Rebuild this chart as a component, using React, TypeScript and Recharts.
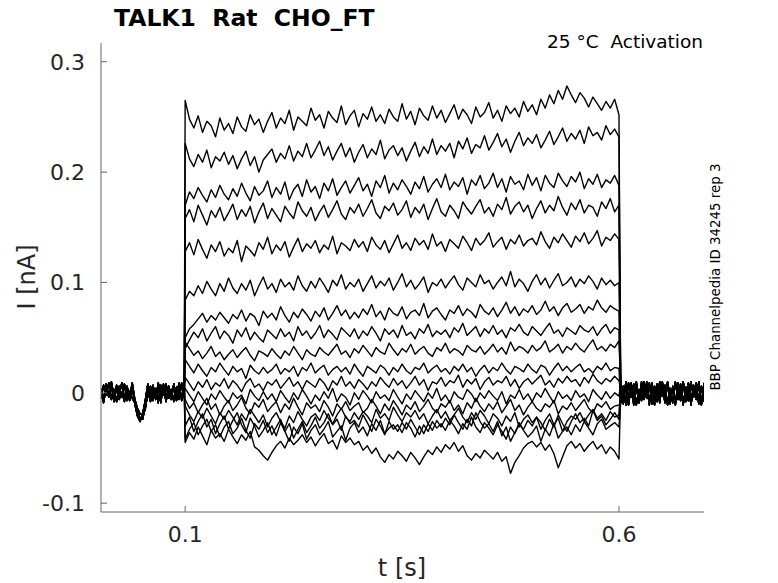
import React from 'react';
import { Line, LineChart, XAxis, YAxis } from 'recharts';

// time in ms, current in pA
const PRE_T = [3, 6, 9, 12, 15, 18, 21, 24, 27, 30, 33, 36, 39, 42, 45, 48, 51, 54, 57, 60, 63, 66, 69, 72, 75, 78, 81, 84, 87, 90, 93, 96, 99];
const POST_T = [602, 605, 608, 611, 614, 617, 620, 623, 626, 629, 632, 635, 638, 641, 644, 647, 650, 653, 656, 659, 662, 665, 668, 671, 674, 677, 680, 683, 686, 689, 692, 695, 698];
const STEP_T = [
  100, 105, 110, 115, 120, 125, 130, 135, 140, 145, 150, 155, 160, 165, 170, 175, 180, 185, 190, 195,
  200, 205, 210, 215, 220, 225, 230, 235, 240, 245, 250, 255, 260, 265, 270, 275, 280, 285, 290, 295,
  300, 305, 310, 315, 320, 325, 330, 335, 340, 345, 350, 355, 360, 365, 370, 375, 380, 385, 390, 395,
  400, 405, 410, 415, 420, 425, 430, 435, 440, 445, 450, 455, 460, 465, 470, 475, 480, 485, 490, 495,
  500, 505, 510, 515, 520, 525, 530, 535, 540, 545, 550, 555, 560, 565, 570, 575, 580, 585, 590, 595, 600,
];

const PRE_A = [4, -6, 8, -3, 7, -8, 5, -2, 9, -5, 3, -7, 6, -10, -21, -26, -19, -7, 8, -4, 7, -6, 9, -3, 5, -8, 6, -2, 8, -7, 4, -5, 7];
const PRE_B = [-5, 7, -2, 9, -6, 3, -8, 6, -4, 8, -7, 2, -5, -9, -17, -23, -24, -12, -3, 6, -7, 4, -9, 7, -2, 8, -5, 3, -8, 5, -6, 9, -3];
const PRE_C = [2, -9, 5, -4, 10, -3, 7, -6, 1, -8, 6, -4, 9, -6, -14, -19, -20, -15, 2, -8, 3, -5, 6, -9, 8, -4, 2, -6, 7, -3, 9, -7, 1];
const POST_A = [8, -10, 10, -6, 9, -11, 5, -8, 10, -4, 7, -11, 9, -7, 4, -9, 10, -5, 8, -10, 6, -11, 9, -3, 10, -8, 5, -10, 7, -6, 10, -9, 4];
const POST_B = [-9, 6, -11, 9, -4, 8, -11, 3, -7, 10, -5, 9, -10, 6, -8, 10, -3, 7, -11, 4, -9, 10, -6, 8, -11, 5, -7, 10, -4, 9, -10, 6, -8];
const POST_C = [3, -7, 9, -11, 6, -3, 10, -9, 4, -6, 10, -8, 2, -11, 8, -5, 7, -9, 10, -4, 3, -10, 5, -7, 10, -2, 9, -11, 6, -5, 8, -11, 9];

const TR_A = [
  265, 248, 240, 251, 236, 246, 242, 232, 249, 238, 244, 235, 250, 241, 237, 252, 243, 248, 236, 246,
  254, 240, 249, 244, 256, 238, 250, 246, 242, 258, 247, 252, 240, 255, 249, 245, 260, 243, 251, 256,
  241, 253, 248, 259, 246, 252, 244, 257, 250, 246, 262, 248, 255, 243, 258, 251, 247, 260, 249, 256,
  245, 253, 261, 248, 257, 252, 244, 259, 250, 254, 263, 249, 256, 246, 260, 253, 258, 250, 264, 255,
  261, 252, 266, 258, 270, 262, 274, 266, 278, 270, 263, 272, 267, 259, 268, 262, 256, 264, 258, 266, 252,
];
const TR_B = [
  226, 212, 205, 216, 209, 220, 204, 214, 210, 218, 207, 215, 203, 212, 219, 206, 214, 200, 211, 216,
  221, 209, 217, 212, 224, 210, 219, 214, 226, 213, 220, 228, 215, 223, 211, 219, 226, 214, 222, 209,
  218, 225, 213, 221, 216, 229, 212, 220, 224, 215, 222, 210, 219, 227, 214, 223, 217, 230, 216, 224,
  219, 226, 213, 228, 221, 231, 217, 225, 222, 233, 220, 227, 235, 223, 230, 218, 228, 236, 224, 231,
  226, 234, 222, 229, 237, 225, 232, 240, 228, 235, 230, 238, 226, 241, 233, 236, 229, 242, 234, 239, 232,
];
const TR_C = [
  170, 182, 176, 186, 179, 173, 184, 177, 188, 180, 175, 185, 178, 190, 181, 174, 187, 179, 183, 192,
  177, 186, 180, 191, 175, 184, 189, 178, 193, 182, 187, 176, 190, 183, 194, 179, 186, 192, 181, 188,
  195, 183, 189, 178, 192, 186, 197, 181, 190, 184, 193, 187, 180, 191, 185, 196, 182, 189, 194, 186,
  198, 184, 191, 187, 195, 180, 193, 188, 197, 185, 190, 199, 186, 194, 182, 196, 189, 192, 184, 198,
  188, 195, 183, 197, 190, 186, 199, 192, 187, 196, 191, 200, 185, 194, 189, 198, 186, 193, 190, 197, 188,
];
const TR_D = [
  158, 166, 155, 170, 161, 152, 165, 159, 168, 156, 163, 171, 157, 166, 160, 169, 154, 164, 172, 158,
  167, 161, 155, 169, 163, 158, 173, 165, 160, 168, 156, 164, 170, 159, 166, 174, 162, 157, 168, 163,
  171, 160, 167, 175, 163, 158, 169, 165, 172, 161, 166, 174, 159, 168, 163, 171, 157, 167, 176, 164,
  160, 170, 165, 158, 173, 167, 162, 169, 175, 163, 168, 160, 171, 166, 177, 162, 169, 173, 164, 170,
  158, 167, 174, 163, 170, 165, 178, 168, 161, 172, 166, 175, 163, 170, 168, 160, 173, 167, 176, 164, 170,
];
const TR_E = [
  128, 136, 125, 139, 130, 122, 134, 128, 137, 124, 131, 127, 138, 119, 133, 129, 124, 136, 130, 141,
  126, 134, 129, 137, 123, 132, 140, 128, 135, 131, 138, 127, 134, 130, 142, 126, 136, 133, 129, 139,
  132, 137, 128, 141, 134, 130, 138, 127, 135, 143, 131, 136, 129, 140, 134, 138, 130, 144, 133, 137,
  128, 139, 135, 131, 142, 136, 129, 140, 134, 138, 145, 132, 137, 141, 130, 139, 135, 143, 133, 138,
  140, 134, 146, 137, 131, 141, 136, 144, 138, 132, 142, 137, 145, 135, 140, 147, 133, 141, 138, 144, 139,
];
const TR_F = [
  84, 92, 88, 97, 90, 101, 94, 88, 99, 92, 104, 95, 90, 99, 93, 102, 88, 97, 105, 94,
  99, 91, 103, 96, 100, 93, 106, 97, 92, 101, 95, 104, 98, 91, 102, 97, 107, 94, 100, 96,
  103, 92, 99, 106, 95, 101, 97, 104, 93, 100, 108, 96, 102, 94, 99, 105, 91, 100, 97, 103,
  95, 101, 106, 98, 93, 104, 100, 96, 107, 99, 102, 94, 100, 105, 97, 110, 96, 103, 99, 92,
  101, 107, 98, 104, 95, 102, 108, 97, 100, 105, 96, 103, 99, 106, 101, 94, 104, 98, 102, 97, 100,
];
const TR_G = [
  50, 58, 62, 67, 72, 64, 70, 66, 73, 68, 63, 71, 67, 75, 65, 72, 69, 61, 74, 68,
  72, 66, 78, 70, 64, 73, 68, 76, 71, 65, 74, 69, 77, 66, 72, 79, 70, 75, 67, 73,
  68, 76, 71, 80, 69, 74, 66, 77, 72, 70, 78, 67, 73, 75, 70, 81, 68, 74, 77, 71,
  66, 75, 72, 79, 70, 76, 73, 68, 80, 74, 71, 77, 69, 75, 82, 72, 78, 70, 76, 73,
  79, 71, 75, 83, 74, 78, 70, 77, 81, 73, 76, 80, 72, 78, 75, 84, 77, 73, 79, 76, 74,
];
const TR_H = [
  40, 48, 55, 50, 58, 47, 54, 60, 49, 56, 52, 45, 57, 51, 59, 48, 55, 50, 46, 57,
  53, 49, 58, 51, 55, 47, 60, 52, 56, 49, 54, 61, 50, 57, 53, 48, 59, 55, 51, 58,
  49, 56, 52, 60, 54, 47, 58, 53, 57, 50, 61, 52, 55, 49, 58, 54, 62, 51, 56, 53,
  57, 50, 59, 55, 63, 52, 56, 60, 51, 58, 54, 61, 53, 57, 50, 59, 56, 62, 55, 52,
  60, 56, 52, 58, 63, 54, 57, 51, 59, 56, 53, 61, 57, 55, 60, 52, 58, 62, 54, 59, 57,
];
const TR_I = [
  46, 40, 34, 38, 31, 36, 42, 33, 37, 30, 35, 39, 32, 37, 41, 34, 29, 38, 36, 33,
  40, 35, 31, 38, 34, 42, 36, 30, 39, 35, 33, 41, 37, 34, 39, 44, 35, 38, 32, 40,
  36, 43, 38, 33, 41, 37, 35, 45, 39, 34, 40, 37, 44, 35, 39, 42, 36, 33, 41, 38,
  45, 36, 40, 38, 34, 43, 39, 37, 42, 35, 39, 44, 37, 41, 35, 46, 38, 42, 40, 36,
  43, 38, 41, 47, 37, 40, 44, 36, 42, 39, 45, 40, 37, 43, 48, 39, 42, 38, 44, 41, 47,
];
const TR_J = [
  30, 24, 18, 26, 20, 15, 23, 19, 27, 21, 16, 24, 19, 22, 13, 25, 20, 17, 23, 18,
  21, 26, 17, 22, 19, 24, 15, 23, 20, 27, 18, 22, 25, 16, 21, 24, 19, 23, 17, 26,
  20, 15, 24, 21, 18, 25, 22, 16, 23, 19, 26, 20, 17, 23, 21, 27, 18, 22, 25, 19,
  22, 17, 24, 20, 26, 19, 23, 15, 21, 25, 18, 23, 20, 27, 21, 17, 24, 22, 19, 26,
  21, 18, 25, 23, 16, 22, 27, 20, 24, 19, 23, 26, 19, 22, 18, 24, 21, 27, 20, 23, 22,
];
const TR_K = [
  14, 8, 2, 10, 5, 12, 3, 9, 6, 13, 4, 11, 7, 1, 9, 13, 5, 8, 2, 10,
  7, 12, 4, 9, 14, 6, 10, 3, 11, 8, 5, 13, 9, 2, 11, 7, 15, 6, 10, 4,
  12, 8, 3, 10, 6, 14, 9, 5, 13, 7, 11, 4, 9, 15, 7, 12, 2, 10, 8, 14,
  6, 11, 9, 16, 5, 12, 8, 13, 3, 10, 14, 7, 11, 9, 15, 6, 12, 4, 10, 13,
  8, 12, 16, 7, 11, 5, 13, 9, 15, 10, 12, 6, 14, 9, 17, 11, 8, 13, 10, 15, 11,
];
const TR_L = [
  4, -2, -8, 1, -5, -11, -1, -6, 2, -4, -9, 0, -5, -2, -10, 3, -3, -7, 1, -6,
  -1, -8, 2, -4, -9, 0, -6, 3, -3, -10, -2, -7, 1, -5, 4, -8, -1, -4, -11, 0,
  -6, 2, -3, -9, 1, -5, -2, -7, 3, -4, -10, -1, -6, 2, -3, -8, 0, -5, 4, -7,
  -2, -9, 1, -4, -6, 3, -1, -8, 0, -5, 2, -3, -7, 1, -10, -2, -5, 3, -6, -1,
  -8, 0, -4, 4, -3, -9, 1, -5, -2, -7, 2, -4, -1, -8, 3, -2, -6, 1, -5, 0, -3,
];
const TR_M = [
  -6, -14, -9, -18, -11, -5, -15, -10, -20, -12, -7, -16, -11, -4, -14, -19, -9, -13, -6, -17,
  -12, -8, -18, -10, -15, -5, -13, -20, -9, -14, -11, -17, -7, -13, -21, -10, -15, -8, -16, -12,
  -9, -18, -14, -6, -12, -19, -10, -16, -7, -13, -20, -11, -15, -8, -17, -12, -6, -14, -18, -10,
  -13, -7, -16, -11, -19, -9, -14, -5, -12, -17, -10, -15, -8, -18, -12, -6, -16, -11, -20, -13,
  -8, -14, -17, -10, -13, -7, -19, -12, -15, -9, -16, -11, -6, -14, -18, -10, -13, -8, -15, -12, -11,
];
const TR_N = [
  -12, -20, -26, -17, -23, -14, -21, -28, -18, -24, -16, -22, -29, -19, -25, -15, -21, -27, -20, -31,
  -23, -18, -26, -32, -21, -27, -17, -24, -30, -22, -19, -25, -16, -23, -28, -20, -14, -22, -26, -18,
  -24, -17, -21, -27, -15, -23, -19, -25, -13, -20, -26, -18, -22, -16, -24, -19, -28, -21, -15, -23,
  -17, -25, -20, -14, -22, -27, -18, -24, -16, -21, -28, -19, -23, -30, -21, -26, -18, -31, -24, -20,
  -27, -22, -33, -25, -19, -29, -23, -35, -26, -21, -24, -18, -26, -20, -15, -23, -19, -25, -17, -22, -20,
];
const TR_Q = [
  -30, -22, -35, -26, -19, -31, -24, -37, -28, -21, -33, -25, -18, -29, -36, -23, -30, -40, -34, -27,
  -38, -31, -24, -35, -28, -41, -33, -26, -36, -30, -22, -32, -27, -19, -29, -24, -34, -21, -28, -25,
  -31, -20, -27, -35, -24, -30, -38, -26, -33, -29, -36, -27, -32, -40, -30, -37, -28, -34, -25, -31,
  -23, -29, -20, -27, -33, -24, -30, -18, -26, -32, -28, -35, -26, -39, -31, -44, -36, -29, -33, -25,
  -30, -22, -27, -34, -24, -31, -20, -28, -35, -26, -19, -27, -23, -30, -16, -25, -21, -29, -24, -18, -24,
];
const TR_O = [
  -42, -33, -27, -38, -30, -24, -35, -29, -40, -31, -26, -37, -32, -23, -34, -41, -28, -33, -25, -36,
  -30, -39, -27, -35, -44, -31, -37, -28, -42, -34, -29, -38, -33, -26, -40, -35, -30, -43, -32, -27,
  -36, -31, -39, -28, -34, -25, -37, -32, -29, -35, -27, -33, -24, -31, -38, -29, -35, -26, -32, -28,
  -34, -25, -30, -37, -28, -33, -22, -31, -36, -27, -32, -38, -29, -35, -42, -31, -37, -27, -34, -40,
  -36, -30, -44, -33, -39, -28, -41, -35, -31, -38, -29, -35, -26, -32, -38, -28, -24, -33, -30, -27, -31,
];
const TR_P = [
  -45, -36, -42, -31, -39, -47, -34, -41, -37, -44, -33, -40, -46, -38, -43, -35, -49, -52, -57, -61,
  -54, -48, -44, -50, -41, -47, -43, -38, -45, -40, -48, -42, -37, -46, -43, -51, -39, -45, -41, -47,
  -44, -52, -48, -55, -50, -58, -63, -56, -60, -53, -57, -62, -54, -59, -65, -58, -52, -56, -49, -54,
  -47, -51, -45, -53, -48, -57, -61, -55, -59, -52, -56, -60, -54, -62, -58, -73, -63, -57, -50, -46,
  -44, -49, -45, -52, -47, -55, -68, -58, -48, -44, -50, -46, -53, -48, -44, -51, -47, -55, -49, -53, -60,
];

const TRACES = [TR_A, TR_B, TR_C, TR_D, TR_E, TR_F, TR_G, TR_H, TR_I, TR_J, TR_K, TR_L, TR_M, TR_N, TR_Q, TR_O, TR_P];
const PRE = [PRE_A, PRE_B, PRE_C];
const POST = [POST_A, POST_B, POST_C];

const Y_TICKS = [-100, 0, 100, 200, 300];
const X_TICKS = [100, 600];

const FONT = '"DejaVu Sans", sans-serif';
const INK = '#262626';

const buildSweep = (step: number[], k: number) => [
  ...PRE_T.map((t, j) => ({ t, i: PRE[k % 3][j] })),
  ...STEP_T.map((t, j) => ({ t, i: step[j] })),
  ...POST_T.map((t, j) => ({ t, i: POST[(k + 1) % 3][j] })),
];

const fmt = (v: number) => String(v / 1000);

export default function App() {
  const sweeps = TRACES.map((s, k) => buildSweep(s, k));
  return (
    <div style={{ position: 'absolute', left: 0, top: 0, width: 778, height: 583, background: '#fff' }}>
      <LineChart width={778} height={583} margin={{ top: 43, right: 74, bottom: 0, left: 40 }}>
        <XAxis
          type="number"
          dataKey="t"
          domain={[3, 698]}
          ticks={X_TICKS}
          tickFormatter={fmt}
          allowDataOverflow
          height={71}
          tickSize={-6}
          tickMargin={20}
          stroke="#666"
          tick={{ fill: INK, fontSize: 22, fontFamily: FONT }}
        />
        <YAxis
          type="number"
          dataKey="i"
          domain={[-108, 317]}
          ticks={Y_TICKS}
          tickFormatter={fmt}
          allowDataOverflow
          width={61}
          tickSize={-6}
          tickMargin={22}
          stroke="#666"
          tick={{ fill: INK, fontSize: 22, fontFamily: FONT }}
        />
        {sweeps.map((d, k) => (
          <Line
            key={k}
            data={d}
            dataKey="i"
            type="linear"
            stroke="#000"
            strokeWidth={1.4}
            strokeLinejoin="round"
            dot={false}
            activeDot={false}
            isAnimationActive={false}
          />
        ))}
      </LineChart>
      <svg width={778} height={583} style={{ position: 'absolute', left: 0, top: 0, pointerEvents: 'none' }}>
        <text x={114} y={26} fontFamily={FONT} fontWeight="bold" fontSize={23.5} fill="#000" style={{ whiteSpace: 'pre' }}>
          TALK1  Rat  CHO_FT
        </text>
        <text x={703} y={47.5} textAnchor="end" fontFamily={FONT} fontSize={18.5} fill="#000" style={{ whiteSpace: 'pre' }}>
          25 °C  Activation
        </text>
        <text x={720} y={277} transform="rotate(-90 720 277)" textAnchor="middle" fontFamily={FONT} fontSize={13.4} fill="#000">
          BBP Channelpedia ID 34245 rep 3
        </text>
        <text x={35} y={277} transform="rotate(-90 35 277)" textAnchor="middle" fontFamily={FONT} fontSize={24} fill={INK}>
          I [nA]
        </text>
        <text x={402} y={576} textAnchor="middle" fontFamily={FONT} fontSize={24} fill={INK}>
          t [s]
        </text>
      </svg>
    </div>
  );
}
